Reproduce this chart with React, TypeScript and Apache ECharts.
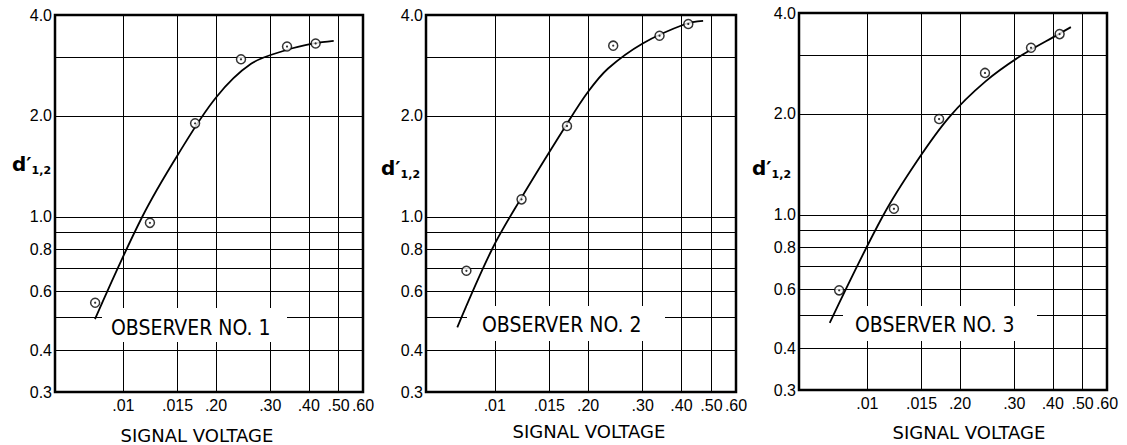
import React, { useEffect, useRef } from 'react';
import * as echarts from 'echarts';

// ---- axes ----
const xMin = 0.006;
const xMax = 0.06;
const yMin = 0.3;
const yMax = 4.0;
const xTickValues = [0.01, 0.015, 0.02, 0.03, 0.04, 0.05, 0.06];
const xTickLabels = ['.01', '.015', '.20', '.30', '.40', '.50', '.60'];
const yGridValues = [0.3, 0.4, 0.5, 0.6, 0.7, 0.8, 0.9, 1.0, 2.0, 3.0, 4.0];
const yLabelValues = [0.3, 0.4, 0.6, 0.8, 1.0, 2.0, 4.0];

// ---- measured points (signal voltage, d'1,2) ----
const pointVoltage = [0.0081, 0.0122, 0.0171, 0.0241, 0.034, 0.0421];
const observer1D = [0.554, 0.959, 1.9, 2.95, 3.22, 3.29];
const observer2D = [0.69, 1.127, 1.865, 3.24, 3.47, 3.76];
const observer3D = [0.595, 1.042, 1.93, 2.65, 3.15, 3.46];

// ---- fitted curves ----
const fit1Voltage = [0.00809, 0.01152, 0.01507, 0.02, 0.02598, 0.0337, 0.0415, 0.0482];
const fit1D = [0.495, 1.0, 1.537, 2.27, 2.86, 3.14, 3.29, 3.35];
const fit2Voltage = [0.00757, 0.0098, 0.0121, 0.01689, 0.02, 0.0232, 0.03, 0.0412, 0.047];
const fit2D = [0.468, 0.8, 1.127, 1.86, 2.36, 2.77, 3.29, 3.76, 3.84];
const fit3Voltage = [0.00755, 0.01122, 0.01445, 0.01848, 0.0242, 0.03168, 0.0418, 0.0458];
const fit3D = [0.476, 0.99, 1.44, 1.96, 2.5, 2.99, 3.46, 3.63];

const observerNames = ['OBSERVER NO. 1', 'OBSERVER NO. 2', 'OBSERVER NO. 3'];
const xAxisTitle = 'SIGNAL VOLTAGE';

// ---- layout (pixels) ----
const panels = [
  { left: 55, top: 15, width: 308, height: 377, box: [102, 308, 185, 34], textX: 111, textY: 327.5, dX: 12, dY: 176, titleX: 197, titleY: 435 },
  { left: 426, top: 15, width: 310, height: 377, box: [467, 306, 198, 35], textX: 482, textY: 325, dX: 381, dY: 180, titleX: 589, titleY: 431 },
  { left: 799, top: 13, width: 308, height: 377, box: [843, 306, 194, 35], textX: 855, textY: 325, dX: 752, dY: 180, titleX: 969, titleY: 432 },
];

const fitVoltages = [fit1Voltage, fit2Voltage, fit3Voltage];
const fitDs = [fit1D, fit2D, fit3D];
const observerDs = [observer1D, observer2D, observer3D];

function zip(a: number[], b: number[]) {
  return a.map((v, i) => [v, b[i]]);
}

function xLabel(v: number) {
  for (let i = 0; i < xTickValues.length; i++) {
    if (Math.abs(xTickValues[i] - v) < 1e-7) return xTickLabels[i];
  }
  return '';
}

function buildOption() {
  const grid: any[] = [];
  const xAxis: any[] = [];
  const yAxis: any[] = [];
  const series: any[] = [];
  const graphic: any[] = [];

  panels.forEach((p, i) => {
    grid.push({
      left: p.left,
      top: p.top,
      width: p.width,
      height: p.height,
      show: true,
      borderColor: '#000',
      borderWidth: 2.5,
      backgroundColor: 'transparent',
    });
    xAxis.push({
      type: 'log',
      logBase: 10,
      gridIndex: i,
      min: xMin,
      max: xMax,
      axisLine: { show: false },
      axisTick: { show: false, customValues: xTickValues },
      minorTick: { show: false },
      splitLine: { show: true, lineStyle: { color: '#000', width: 1 } },
      axisLabel: {
        customValues: xTickValues,
        formatter: (v: number) => xLabel(v),
        color: '#000',
        fontSize: 16,
        fontFamily: 'Liberation Sans',
        margin: 5,
      },
    });
    yAxis.push({
      type: 'log',
      logBase: 10,
      gridIndex: i,
      min: yMin,
      max: yMax,
      axisLine: { show: false },
      axisTick: { show: false, customValues: yGridValues },
      minorTick: { show: false },
      splitLine: { show: true, lineStyle: { color: '#000', width: 1 } },
      axisLabel: {
        customValues: yLabelValues,
        formatter: (v: number) => v.toFixed(1),
        color: '#000',
        fontSize: 16,
        fontFamily: 'Liberation Sans',
        margin: 3,
      },
    });
    series.push({
      type: 'line',
      xAxisIndex: i,
      yAxisIndex: i,
      data: zip(fitVoltages[i], fitDs[i]),
      smooth: 0.35,
      symbol: 'none',
      lineStyle: { color: '#000', width: 1.8 },
      z: 2,
      silent: true,
    });
    series.push({
      type: 'scatter',
      xAxisIndex: i,
      yAxisIndex: i,
      data: zip(pointVoltage, observerDs[i]),
      symbol: 'circle',
      symbolSize: 9,
      itemStyle: { color: '#fff', borderColor: '#000', borderWidth: 1.5 },
      z: 3,
      silent: true,
    });
    series.push({
      type: 'scatter',
      xAxisIndex: i,
      yAxisIndex: i,
      data: zip(pointVoltage, observerDs[i]),
      symbol: 'circle',
      symbolSize: 2.2,
      itemStyle: { color: '#000' },
      z: 4,
      silent: true,
    });

    graphic.push({
      type: 'rect',
      z: 100,
      shape: { x: p.box[0], y: p.box[1], width: p.box[2], height: p.box[3] },
      style: { fill: '#fff' },
      silent: true,
    });
    graphic.push({
      type: 'text',
      z: 101,
      x: p.textX,
      y: p.textY,
      style: {
        text: observerNames[i],
        font: '21px "DejaVu Sans Condensed", "Liberation Sans Narrow", sans-serif',
        fill: '#000',
        align: 'left',
        verticalAlign: 'middle',
      },
      silent: true,
    });
    graphic.push({
      type: 'text',
      z: 101,
      x: p.dX,
      y: p.dY,
      style: {
        text: '{d|d′}{s|1,2}',
        fill: '#000',
        align: 'left',
        verticalAlign: 'bottom',
        rich: {
          d: { fontSize: 20, fontFamily: 'DejaVu Sans', fontWeight: 'bold', lineHeight: 24, verticalAlign: 'middle' },
          s: { fontSize: 11, fontFamily: 'DejaVu Sans', fontWeight: 'bold', lineHeight: 24, verticalAlign: 'bottom' },
        },
      },
      silent: true,
    });
    graphic.push({
      type: 'text',
      z: 101,
      x: p.titleX,
      y: p.titleY,
      style: {
        text: xAxisTitle,
        font: '18px "DejaVu Sans", sans-serif',
        fill: '#000',
        align: 'center',
        verticalAlign: 'middle',
      },
      silent: true,
    });
  });

  return {
    animation: false,
    backgroundColor: '#fff',
    grid,
    xAxis,
    yAxis,
    series,
    graphic,
  };
}

export default function App() {
  const ref = useRef<HTMLDivElement>(null);
  useEffect(() => {
    document.body.style.margin = '0';
    const chart = echarts.init(ref.current as HTMLDivElement, null, { renderer: 'svg' });
    chart.setOption(buildOption() as any);
    return () => {
      chart.dispose();
    };
  }, []);
  return <div ref={ref} style={{ width: 1127, height: 445, background: '#fff' }} />;
}
